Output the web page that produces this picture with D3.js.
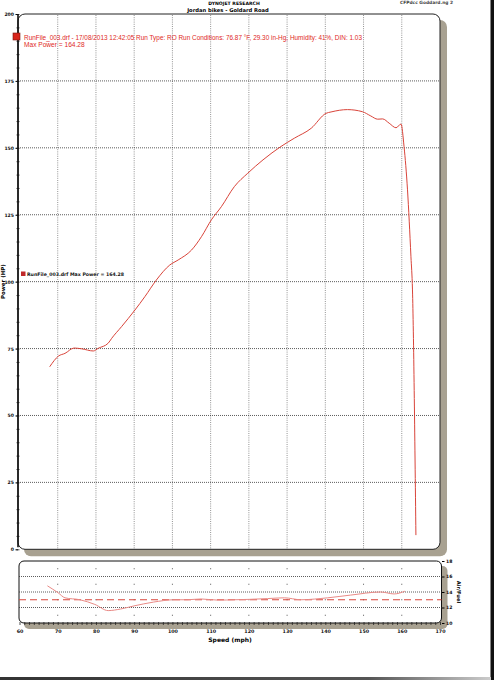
<!DOCTYPE html>
<html><head><meta charset="utf-8">
<script src="https://cdn.jsdelivr.net/npm/d3@7"></script>
<style>
html,body{margin:0;padding:0;background:#fff;}
svg{display:block;}
</style></head>
<body>
<svg id="c" width="494" height="680"></svg>
<script>
// ---- data ----
const powerMph = [67.9,70.2,71.9,74.3,76.3,79.3,80.6,83.2,84.1,86.7,90.2,92.8,95.8,99.3,101.5,105.0,107.6,110.2,112.8,116.2,119.7,123.7,128.4,131.9,136.3,140.2,141.5,145.8,149.7,151.9,153.7,155.0,156.7,158.5,159.8,160.6,161.5,162.4,162.8,163.7];
const powerHp  = [68.2,72.2,73.2,75.2,74.9,74.1,75.1,77.0,78.8,83.2,89.4,94.4,100.6,106.2,108.1,111.8,116.8,123.1,128.0,135.5,140.5,145.5,150.5,153.6,157.3,162.9,163.4,164.28,163.5,161.9,160.7,160.8,159.2,157.5,158.9,150.4,134.3,109.3,96.9,5.3];
const afrMph = [67.3,70.1,71.9,75.8,79.7,83.2,86.4,89.9,95.1,100.4,103.8,107.5,112.0,116.2,120.0,124.9,129.3,133.6,140.6,146.6,154.5,158.0,160.8];
const afrVal = [14.8,13.9,13.25,13.0,12.4,11.6,11.8,12.2,12.7,13.0,13.0,13.1,12.95,13.0,13.05,13.15,13.25,13.0,13.25,13.6,14.0,13.75,14.1];
const afrTarget = 13.0;
const speedTicks = [60,70,80,90,100,110,120,130,140,150,160,170];
const powerTicks = [0,25,50,75,100,125,150,175,200];
const afrTicks = [10,12,14,16,18];
const titleLines = ["DYNOJET RESEARCH","Jordan bikes - Goldard Road"];
const legendLine1 = "RunFile_003.drf - 17/08/2013 12:42:05  Run Type: RO  Run Conditions: 76.87 °F, 29.30 in-Hg,  Humidity:  41%, DIN: 1.03";
const legendLine2 = "Max Power = 164.28";
const innerLegend = "RunFile_003.drf Max Power = 164.28";

// ---- layout ----
const svg = d3.select("#c");
const x = d3.scaleLinear([60,170],[19.5,440]);
const yP = d3.scaleLinear([0,200],[549.3,14]);
const yA = d3.scaleLinear([10,18],[623,561]);
const RED = "#d9443a";
const SHADOW = "#a8a191";
const tickFont = "'DejaVu Sans', sans-serif";

// scan edges
svg.append("rect").attr("x",490.5).attr("y",0).attr("width",3.5).attr("height",680).attr("fill","#111");
const g0 = svg.append("defs").append("linearGradient").attr("id","bot").attr("x1",0).attr("x2",1);
g0.append("stop").attr("offset",0).attr("stop-color","#333");
g0.append("stop").attr("offset",0.75).attr("stop-color","#555");
g0.append("stop").attr("offset",1).attr("stop-color","#ccc");
svg.append("rect").attr("x",0).attr("y",677).attr("width",491).attr("height",3).attr("fill","url(#bot)");

// header
svg.append("text").attr("x",234).attr("y",5).attr("text-anchor","middle")
  .attr("font-family",tickFont).attr("font-weight","bold").attr("font-size",4.6).text(titleLines[0]);
svg.append("text").attr("x",228).attr("y",11.5).attr("text-anchor","middle")
  .attr("font-family",tickFont).attr("font-weight","bold").attr("font-size",5.2).text(titleLines[1]);
svg.append("text").attr("x",400).attr("y",4).attr("font-family",tickFont).attr("font-weight","bold")
  .attr("font-size",4.4).attr("fill","#444").text("CFPdcc Goddard.ng 2");

// ---- main panel ----
const L = x(60)-1.5, R = x(170), T = yP(200), B = yP(0);
svg.append("rect").attr("x",L+6).attr("y",T+6).attr("width",R-L+1).attr("height",B-T+1).attr("rx",7).attr("fill",SHADOW);
svg.append("rect").attr("x",L).attr("y",T).attr("width",R-L).attr("height",B-T).attr("rx",7)
  .attr("fill","#fff").attr("stroke","#222").attr("stroke-width",1);

// grid
const gGrid = svg.append("g");
gGrid.selectAll("line.v").data(speedTicks.filter(d=>d>60&&d<170)).join("line")
  .attr("x1",d=>x(d)).attr("x2",d=>x(d)).attr("y1",T+1).attr("y2",B)
  .attr("stroke","#777").attr("stroke-width",0.8).attr("stroke-dasharray","1,1.2");
gGrid.selectAll("line.h").data(powerTicks.filter(d=>d>0&&d<200)).join("line")
  .attr("x1",L).attr("x2",R).attr("y1",d=>yP(d)).attr("y2",d=>yP(d))
  .attr("stroke","#333").attr("stroke-width",0.8).attr("stroke-dasharray","1,1");

// y axis
const yAx = svg.append("g").attr("transform",`translate(${L},0)`)
  .call(d3.axisLeft(yP).tickValues(powerTicks).tickSize(2.5).tickPadding(1.5));
yAx.select(".domain").remove();
yAx.selectAll("text").attr("font-family",tickFont).attr("font-weight","bold").attr("font-size",4.6).attr("fill","#111");
const yMin = svg.append("g").attr("transform",`translate(${L+1.5},0)`)
  .call(d3.axisLeft(yP).tickValues(d3.range(0,201,5)).tickSize(3).tickFormat(""));
yMin.select(".domain").remove();
yMin.selectAll("line").attr("stroke","#222").attr("stroke-width",0.8);
svg.append("line").attr("x1",L).attr("x2",L).attr("y1",T).attr("y2",B-2).attr("stroke","#111").attr("stroke-width",1.6);

svg.append("text").attr("transform",`translate(5,${yP(100)}) rotate(-90)`).attr("text-anchor","middle")
  .attr("font-family",tickFont).attr("font-weight","bold").attr("font-size",5.5).text("Power (HP)");

// power curve
svg.append("path").datum(powerMph.map((m,i)=>[m,powerHp[i]]))
  .attr("d",d3.line().x(d=>x(d[0])).y(d=>yP(d[1])).curve(d3.curveMonotoneX))
  .attr("fill","none").attr("stroke",RED).attr("stroke-width",1);

// legends
svg.append("rect").attr("x",13).attr("y",33).attr("width",7).attr("height",7).attr("fill","#d8261c").attr("stroke","#7a1410").attr("stroke-width",0.6);
svg.append("text").attr("x",24).attr("y",39.5).attr("font-family","'Liberation Sans', Arial, sans-serif")
  .attr("font-size",6.6).attr("fill","#e0281e").attr("textLength",338).attr("lengthAdjust","spacingAndGlyphs").text(legendLine1);
svg.append("text").attr("x",24).attr("y",47).attr("font-family","'Liberation Sans', Arial, sans-serif")
  .attr("font-size",6.6).attr("fill","#e0281e").text(legendLine2);
svg.append("rect").attr("x",21).attr("y",271.5).attr("width",4.5).attr("height",4.5).attr("fill","#c0282a");
svg.append("text").attr("x",27).attr("y",276.2).attr("font-family",tickFont).attr("font-weight","bold")
  .attr("font-size",4.8).attr("fill","#111").attr("textLength",97).attr("lengthAdjust","spacingAndGlyphs").text(innerLegend);

// ---- lower AFR panel ----
const L2 = x(60)-0.5, R2 = x(170)+1.5, T2 = yA(18), B2 = yA(10);
svg.append("rect").attr("x",L2+5).attr("y",T2+5).attr("width",R2-L2+1).attr("height",B2-T2+1).attr("rx",5).attr("fill",SHADOW);
svg.append("rect").attr("x",L2).attr("y",T2).attr("width",R2-L2).attr("height",B2-T2).attr("rx",5)
  .attr("fill","#fff").attr("stroke","#111").attr("stroke-width",1);

svg.selectAll("line.ah").data(afrTicks.filter(d=>d>10&&d<18)).join("line")
  .attr("x1",L2).attr("x2",R2).attr("y1",d=>yA(d)).attr("y2",d=>yA(d))
  .attr("stroke","#333").attr("stroke-width",0.8).attr("stroke-dasharray","1,1");
const dotGap = yA(15)-yA(17)-1;
svg.selectAll("line.av").data(speedTicks.filter(d=>d>60&&d<170)).join("line")
  .attr("x1",d=>x(d)).attr("x2",d=>x(d)).attr("y1",yA(17)-0.5).attr("y2",yA(11)+1)
  .attr("stroke","#444").attr("stroke-width",0.9).attr("stroke-dasharray",`1,${dotGap}`);

// target dashed
svg.append("line").attr("x1",L2).attr("x2",R2).attr("y1",yA(afrTarget)).attr("y2",yA(afrTarget))
  .attr("stroke","#d9443a").attr("stroke-width",1.2).attr("stroke-dasharray","7,4");
svg.append("path").datum(afrMph.map((m,i)=>[m,afrVal[i]]))
  .attr("d",d3.line().x(d=>x(d[0])).y(d=>yA(d[1])).curve(d3.curveMonotoneX))
  .attr("fill","none").attr("stroke","#e98a86").attr("stroke-width",1);

// bottom minor ticks
const xMin = svg.append("g").attr("transform",`translate(0,${B2+1.5})`)
  .call(d3.axisBottom(x).tickValues(d3.range(60,170.01,1.25)).tickSize(3).tickFormat(""));
xMin.select(".domain").remove();
xMin.selectAll("line").attr("stroke","#222").attr("stroke-width",0.8).attr("transform","translate(0,-2.5)");
// x labels
const xAx = svg.append("g").attr("transform",`translate(0,${B2+7})`)
  .call(d3.axisBottom(x).tickValues(speedTicks).tickSize(0).tickPadding(0));
xAx.select(".domain").remove();
xAx.selectAll("text").attr("font-family",tickFont).attr("font-weight","bold").attr("font-size",4.8).attr("fill","#111");
svg.append("text").attr("x",230).attr("y",642).attr("text-anchor","middle").attr("font-family",tickFont)
  .attr("font-weight","bold").attr("font-size",6).text("Speed (mph)");

// right AFR axis
const aAx = svg.append("g").attr("transform",`translate(${R2+0.5},0)`)
  .call(d3.axisRight(yA).tickValues(afrTicks).tickSize(2.5).tickPadding(1.5));
aAx.select(".domain").remove();
aAx.selectAll("text").attr("font-family",tickFont).attr("font-weight","bold").attr("font-size",4.6).attr("fill","#111");
svg.append("text").attr("transform",`translate(457,${yA(14)}) rotate(90)`).attr("text-anchor","middle")
  .attr("font-family",tickFont).attr("font-weight","bold").attr("font-size",5.2).text("Air/Fuel");
</script>
</body></html>
